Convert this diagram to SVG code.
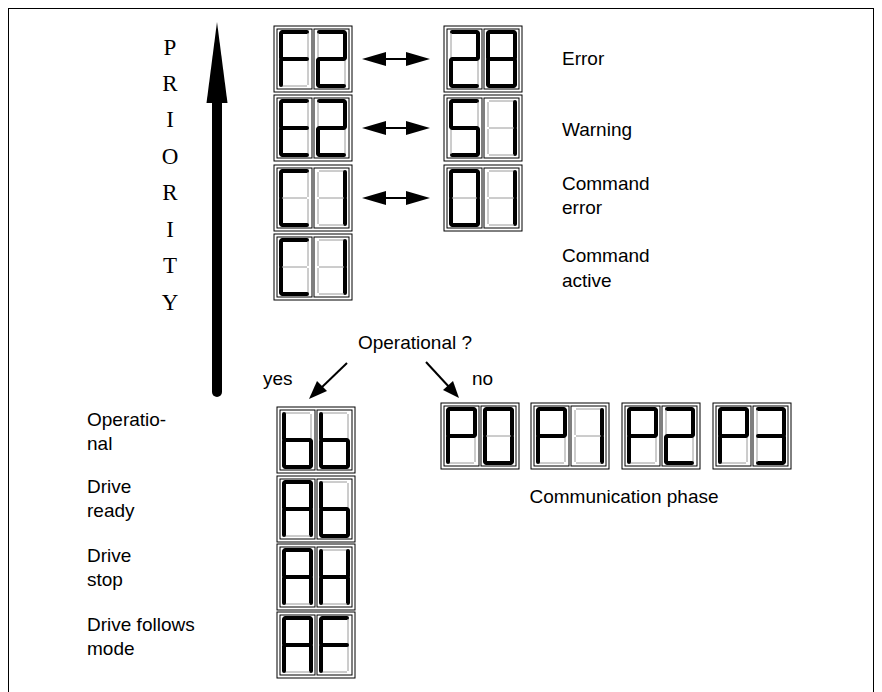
<svg xmlns="http://www.w3.org/2000/svg" xmlns:xlink="http://www.w3.org/1999/xlink" width="882" height="692" viewBox="0 0 882 692">
<style>
.frm rect{fill:none;stroke:#000;stroke-width:1}
.on{stroke:#000;stroke-width:4;stroke-linecap:round}
.off{stroke:#9a9a9a;stroke-width:1}
.lbl{font-family:"Liberation Sans",Arial,sans-serif;font-size:19px;fill:#000}
.pri{font-family:"Liberation Serif","Times New Roman",serif;font-size:23px;fill:#000}
.conn line{stroke:#000;stroke-width:2}
.conn polygon{fill:#000}
</style>
<defs>
<line id="sa" x1="8" y1="6" x2="33" y2="6"/>
<line id="sb" x1="34" y1="7" x2="34" y2="32"/>
<line id="sc" x1="34" y1="34" x2="34" y2="59"/>
<line id="sd" x1="8" y1="60" x2="33" y2="60"/>
<line id="se" x1="7" y1="34" x2="7" y2="59"/>
<line id="sf" x1="7" y1="7" x2="7" y2="32"/>
<line id="sg" x1="8" y1="33" x2="33" y2="33"/>
<g id="frame" class="frm"><rect x="0" y="0" width="78" height="66"/><rect x="3" y="3" width="35" height="60"/><rect x="40" y="3" width="35" height="60"/></g>
<g id="gF"><use href="#sa" class="on"/><use href="#sb" class="off"/><use href="#sc" class="off"/><use href="#sd" class="off"/><use href="#se" class="on"/><use href="#sf" class="on"/><use href="#sg" class="on"/></g>
<g id="g2"><use href="#sa" class="on"/><use href="#sb" class="on"/><use href="#sc" class="off"/><use href="#sd" class="on"/><use href="#se" class="on"/><use href="#sf" class="off"/><use href="#sg" class="on"/></g>
<g id="g8"><use href="#sa" class="on"/><use href="#sb" class="on"/><use href="#sc" class="on"/><use href="#sd" class="on"/><use href="#se" class="on"/><use href="#sf" class="on"/><use href="#sg" class="on"/></g>
<g id="gE"><use href="#sa" class="on"/><use href="#sb" class="off"/><use href="#sc" class="off"/><use href="#sd" class="on"/><use href="#se" class="on"/><use href="#sf" class="on"/><use href="#sg" class="on"/></g>
<g id="g5"><use href="#sa" class="on"/><use href="#sb" class="off"/><use href="#sc" class="on"/><use href="#sd" class="on"/><use href="#se" class="off"/><use href="#sf" class="on"/><use href="#sg" class="on"/></g>
<g id="g1"><use href="#sa" class="off"/><use href="#sb" class="on"/><use href="#sc" class="on"/><use href="#sd" class="off"/><use href="#se" class="off"/><use href="#sf" class="off"/><use href="#sg" class="off"/></g>
<g id="gC"><use href="#sa" class="on"/><use href="#sb" class="off"/><use href="#sc" class="off"/><use href="#sd" class="on"/><use href="#se" class="on"/><use href="#sf" class="on"/><use href="#sg" class="off"/></g>
<g id="g0"><use href="#sa" class="on"/><use href="#sb" class="on"/><use href="#sc" class="on"/><use href="#sd" class="on"/><use href="#se" class="on"/><use href="#sf" class="on"/><use href="#sg" class="off"/></g>
<g id="gb"><use href="#sa" class="off"/><use href="#sb" class="off"/><use href="#sc" class="on"/><use href="#sd" class="on"/><use href="#se" class="on"/><use href="#sf" class="on"/><use href="#sg" class="on"/></g>
<g id="gA"><use href="#sa" class="on"/><use href="#sb" class="on"/><use href="#sc" class="on"/><use href="#sd" class="off"/><use href="#se" class="on"/><use href="#sf" class="on"/><use href="#sg" class="on"/></g>
<g id="gH"><use href="#sa" class="off"/><use href="#sb" class="on"/><use href="#sc" class="on"/><use href="#sd" class="off"/><use href="#se" class="on"/><use href="#sf" class="on"/><use href="#sg" class="on"/></g>
<g id="gP"><use href="#sa" class="on"/><use href="#sb" class="on"/><use href="#sc" class="off"/><use href="#sd" class="off"/><use href="#se" class="on"/><use href="#sf" class="on"/><use href="#sg" class="on"/></g>
<g id="g3"><use href="#sa" class="on"/><use href="#sb" class="on"/><use href="#sc" class="on"/><use href="#sd" class="on"/><use href="#se" class="off"/><use href="#sf" class="off"/><use href="#sg" class="on"/></g>
</defs>

<rect x="8.5" y="8.5" width="865" height="700" fill="none" stroke="#000" stroke-width="1"/>

<g id="priority">
<rect x="212" y="100" width="10" height="292" fill="#000"/>
<circle cx="217" cy="392" r="5" fill="#000"/>
<polygon points="217,22 206.5,103 227.5,103" fill="#000"/>
<text class="pri" x="170" y="55" text-anchor="middle">P</text>
<text class="pri" x="170" y="91" text-anchor="middle">R</text>
<text class="pri" x="170" y="127" text-anchor="middle">I</text>
<text class="pri" x="170" y="164" text-anchor="middle">O</text>
<text class="pri" x="170" y="200" text-anchor="middle">R</text>
<text class="pri" x="170" y="237" text-anchor="middle">I</text>
<text class="pri" x="170" y="273" text-anchor="middle">T</text>
<text class="pri" x="170" y="310" text-anchor="middle">Y</text>
</g>

<g id="d-F2" transform="translate(274,26)"><use href="#frame"/><use href="#gF"/><use href="#g2" x="37"/></g>
<g id="d-28" transform="translate(444,26)"><use href="#frame"/><use href="#g2"/><use href="#g8" x="37"/></g>
<g id="d-E2" transform="translate(274,95)"><use href="#frame"/><use href="#gE"/><use href="#g2" x="37"/></g>
<g id="d-51" transform="translate(444,95)"><use href="#frame"/><use href="#g5"/><use href="#g1" x="37"/></g>
<g id="d-C1a" transform="translate(274,165)"><use href="#frame"/><use href="#gC"/><use href="#g1" x="37"/></g>
<g id="d-01" transform="translate(444,165)"><use href="#frame"/><use href="#g0"/><use href="#g1" x="37"/></g>
<g id="d-C1b" transform="translate(274,234)"><use href="#frame"/><use href="#gC"/><use href="#g1" x="37"/></g>

<g id="d-bb" transform="translate(277,407)"><use href="#frame"/><use href="#gb"/><use href="#gb" x="37"/></g>
<g id="d-Ab" transform="translate(277,476)"><use href="#frame"/><use href="#gA"/><use href="#gb" x="37"/></g>
<g id="d-AH" transform="translate(277,544)"><use href="#frame"/><use href="#gA"/><use href="#gH" x="37"/></g>
<g id="d-AF" transform="translate(277,612)"><use href="#frame"/><use href="#gA"/><use href="#gF" x="37"/></g>

<g id="d-P0" transform="translate(441,403)"><use href="#frame"/><use href="#gP"/><use href="#g0" x="37"/></g>
<g id="d-P1" transform="translate(531,403)"><use href="#frame"/><use href="#gP"/><use href="#g1" x="37"/></g>
<g id="d-P2" transform="translate(622,403)"><use href="#frame"/><use href="#gP"/><use href="#g2" x="37"/></g>
<g id="d-P3" transform="translate(713,403)"><use href="#frame"/><use href="#gP"/><use href="#g3" x="37"/></g>

<g id="connectors" class="conn">
<line x1="380" y1="59" x2="412" y2="59"/><polygon points="362,59 386,52 386,66"/><polygon points="430,59 406,52 406,66"/>
<line x1="380" y1="128" x2="412" y2="128"/><polygon points="362,128 386,121 386,135"/><polygon points="430,128 406,121 406,135"/>
<line x1="380" y1="198" x2="412" y2="198"/><polygon points="362,198 386,191 386,205"/><polygon points="430,198 406,191 406,205"/>
<line x1="347" y1="363" x2="320" y2="389"/><polygon points="309,399 317,381 327,391"/>
<line x1="426" y1="362" x2="450" y2="388"/><polygon points="459,398 443,390 453,381"/>
</g>

<g id="labels">
<text class="lbl" x="562" y="65">Error</text>
<text class="lbl" x="562" y="136">Warning</text>
<text class="lbl" x="562" y="190">Command</text>
<text class="lbl" x="562" y="214">error</text>
<text class="lbl" x="562" y="262">Command</text>
<text class="lbl" x="562" y="287">active</text>
<text class="lbl" x="415" y="349" text-anchor="middle">Operational ?</text>
<text class="lbl" x="263" y="385">yes</text>
<text class="lbl" x="472" y="385">no</text>
<text class="lbl" x="87" y="426">Operatio-</text>
<text class="lbl" x="87" y="450">nal</text>
<text class="lbl" x="87" y="493">Drive</text>
<text class="lbl" x="87" y="517">ready</text>
<text class="lbl" x="87" y="562">Drive</text>
<text class="lbl" x="87" y="586">stop</text>
<text class="lbl" x="87" y="631">Drive follows</text>
<text class="lbl" x="87" y="655">mode</text>
<text class="lbl" x="624" y="503" text-anchor="middle">Communication phase</text>
</g>
</svg>
